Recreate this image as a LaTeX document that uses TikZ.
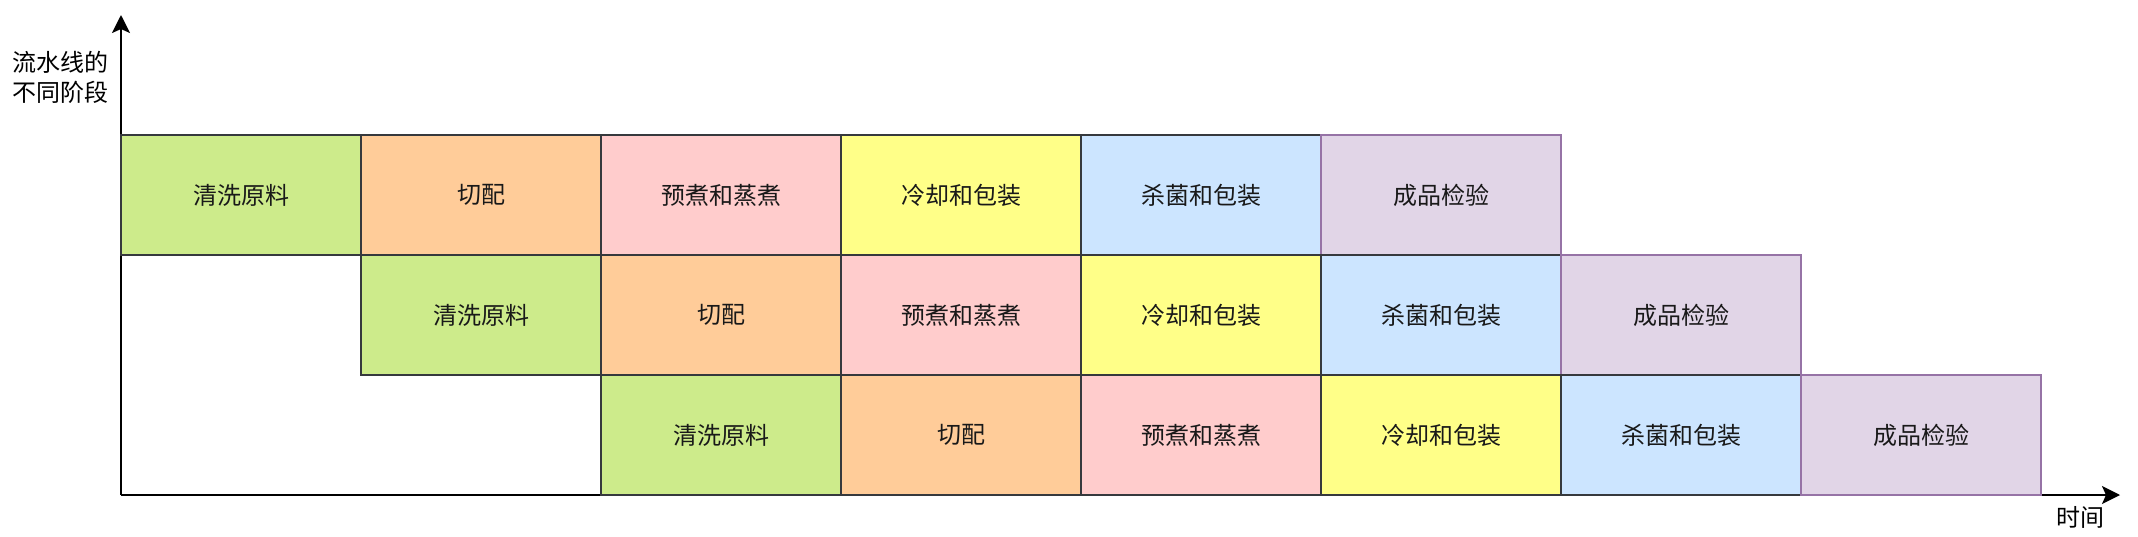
\documentclass[tikz,border=0pt]{standalone}
\usepackage{fontspec}
\usepackage{xcolor}
\usepackage{tikz}
\usetikzlibrary{arrows.meta,positioning}
\newfontfamily\cjk{Noto Sans CJK SC}

\definecolor{washfill}{HTML}{CDEB8B}
\definecolor{cutfill}{HTML}{FFCC99}
\definecolor{cookfill}{HTML}{FFCCCC}
\definecolor{coolfill}{HTML}{FFFF88}
\definecolor{sterilfill}{HTML}{CCE5FF}
\definecolor{checkfill}{HTML}{E1D5E7}
\definecolor{boxline}{HTML}{36393D}
\definecolor{checkline}{HTML}{9673A6}

\begin{document}
\begin{tikzpicture}[
  x=0.5pt, y=-0.5pt,
  node distance=0pt,
  font=\cjk\fontsize{12}{15}\selectfont,
  stage/.style={draw=boxline, line width=1pt, minimum width=120pt, minimum height=60pt, outer sep=0pt, inner sep=0pt, text=black!90},
  wash/.style={stage, fill=washfill},
  cut/.style={stage, fill=cutfill},
  cook/.style={stage, fill=cookfill},
  cool/.style={stage, fill=coolfill},
  steril/.style={stage, fill=sterilfill},
  check/.style={stage, fill=checkfill, draw=checkline},
  axis/.style={-{Stealth[length=9pt,width=9pt,inset=2pt]}, line width=1pt}
]
  \useasboundingbox (0,0) rectangle (2138,536);
  \coordinate (origin) at (121,495);
  \coordinate (ytop) at (121,15);
  \coordinate (xend) at (2120,495);
  \draw[axis] (origin) -- (ytop);
  \draw[axis] (origin) -- (xend);
  \node[align=center] (ylabel) at (60,77) {流水线的\\不同阶段};
  \node (xlabel) at (2080,517) {时间};

  % first batch
  \node[wash, anchor=north west] (wash1) at (121,135) {清洗原料};
  \node[cut, right=of wash1] (cut1) {切配};
  \node[cook, right=of cut1] (cook1) {预煮和蒸煮};
  \node[cool, right=of cook1] (cool1) {冷却和包装};
  \node[steril, right=of cool1] (steril1) {杀菌和包装};
  \node[check, right=of steril1] (check1) {成品检验};

  % second batch
  \node[wash, below=of cut1] (wash2) {清洗原料};
  \node[cut, right=of wash2] (cut2) {切配};
  \node[cook, right=of cut2] (cook2) {预煮和蒸煮};
  \node[cool, right=of cook2] (cool2) {冷却和包装};
  \node[steril, right=of cool2] (steril2) {杀菌和包装};
  \node[check, right=of steril2] (check2) {成品检验};

  % third batch
  \node[wash, below=of cut2] (wash3) {清洗原料};
  \node[cut, right=of wash3] (cut3) {切配};
  \node[cook, right=of cut3] (cook3) {预煮和蒸煮};
  \node[cool, right=of cook3] (cool3) {冷却和包装};
  \node[steril, right=of cool3] (steril3) {杀菌和包装};
  \node[check, right=of steril3] (check3) {成品检验};
\end{tikzpicture}
\end{document}
